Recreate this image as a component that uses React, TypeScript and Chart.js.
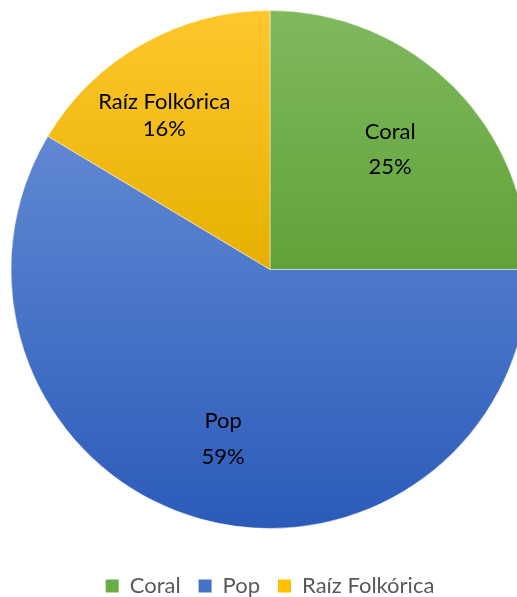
import React, { useEffect, useRef } from "react";
import { Chart, registerables } from "chart.js";

Chart.register(...registerables);

const categories = ["Coral", "Pop", "Raíz Folkórica"];
const shares = [25.0, 58.6, 16.4];

// styling (not data)
const gradientStops: [string, string][] = [
  ["#80B95E", "#60A238"],
  ["#7196DA", "#2B5BBA"],
  ["#FFC72C", "#E6B000"],
];
const legendSwatch = ["#6CAC47", "#4472C4", "#FFC000"];
const labelRadiusFactor = [0.656, 0.678, 0.72];
const labelAngleShift = [0, 0, -5];
const labelLineGap = [35, 36, 27];
const FONT = "Lato, 'Open Sans', sans-serif";
const FONT_SIZE = 22;

const labelPlugin = {
  id: "sliceLabels",
  afterDatasetsDraw(chart: any) {
    const { ctx } = chart;
    const meta = chart.getDatasetMeta(0);
    const total = shares.reduce((a, b) => a + b, 0);
    ctx.save();
    ctx.font = `${FONT_SIZE}px ${FONT}`;
    ctx.fillStyle = "#000000";
    ctx.textAlign = "center";
    ctx.textBaseline = "middle";
    meta.data.forEach((arc: any, i: number) => {
      const p = arc.getProps(["x", "y", "startAngle", "endAngle", "outerRadius"], true);
      const mid = (p.startAngle + p.endAngle) / 2 + (labelAngleShift[i] * Math.PI) / 180;
      const r = p.outerRadius * labelRadiusFactor[i];
      const cx = p.x + Math.cos(mid) * r;
      const cy = p.y + Math.sin(mid) * r;
      const pct = Math.round((shares[i] / total) * 100) + "%";
      const g = labelLineGap[i] / 2;
      ctx.fillText(categories[i], cx, cy - g);
      ctx.fillText(pct, cx, cy + g);
    });
    ctx.restore();
  },
};

export default function App() {
  const ref = useRef<HTMLCanvasElement | null>(null);
  useEffect(() => {
    if (!ref.current) return;
    const chart = new Chart(ref.current, {
      type: "pie",
      data: {
        labels: categories,
        datasets: [
          {
            data: shares,
            borderWidth: 1,
            borderColor: "rgba(255,255,255,0.45)",
            backgroundColor: (c: any) => {
              const chart = c.chart;
              const area = chart.chartArea;
              const i = c.dataIndex;
              if (!area) return legendSwatch[i];
              const g = chart.ctx.createLinearGradient(0, area.top, 0, area.bottom);
              const [a, b] = gradientStops[i];
              if (i === 1) {
                g.addColorStop(0, a);
                g.addColorStop(1, b);
              } else {
                g.addColorStop(0, a);
                g.addColorStop(0.5, b);
                g.addColorStop(1, b);
              }
              return g;
            },
          },
        ],
      },
      options: {
        responsive: false,
        animation: false,
        events: [],
        layout: { padding: { top: 10, bottom: -10, left: 0, right: 0 } },
        plugins: {
          tooltip: { enabled: false },
          legend: {
            position: "bottom",
            title: {
              display: true,
              text: " ",
              color: "rgba(0,0,0,0)",
              font: { size: 10 },
              padding: { top: 16, bottom: 0 },
            },
            labels: {
              boxWidth: 13,
              boxHeight: 13,
              padding: 18,
              color: "#595959",
              font: { size: FONT_SIZE, family: FONT },
              generateLabels: () =>
                categories.map((t, i) => ({
                  text: t,
                  fillStyle: legendSwatch[i],
                  strokeStyle: legendSwatch[i],
                  lineWidth: 0,
                  hidden: false,
                  index: i,
                  fontColor: "#595959",
                })),
            },
          },
        },
      },
      plugins: [labelPlugin],
    });
    return () => chart.destroy();
  }, []);
  return (
    <div
      style={{
        position: "fixed",
        left: 0,
        top: 0,
        width: 517,
        height: 597,
        overflow: "hidden",
        background: "#ffffff",
      }}
    >
      <canvas ref={ref} width={540} height={597} style={{ display: "block", width: 540, height: 597 }} />
    </div>
  );
}
